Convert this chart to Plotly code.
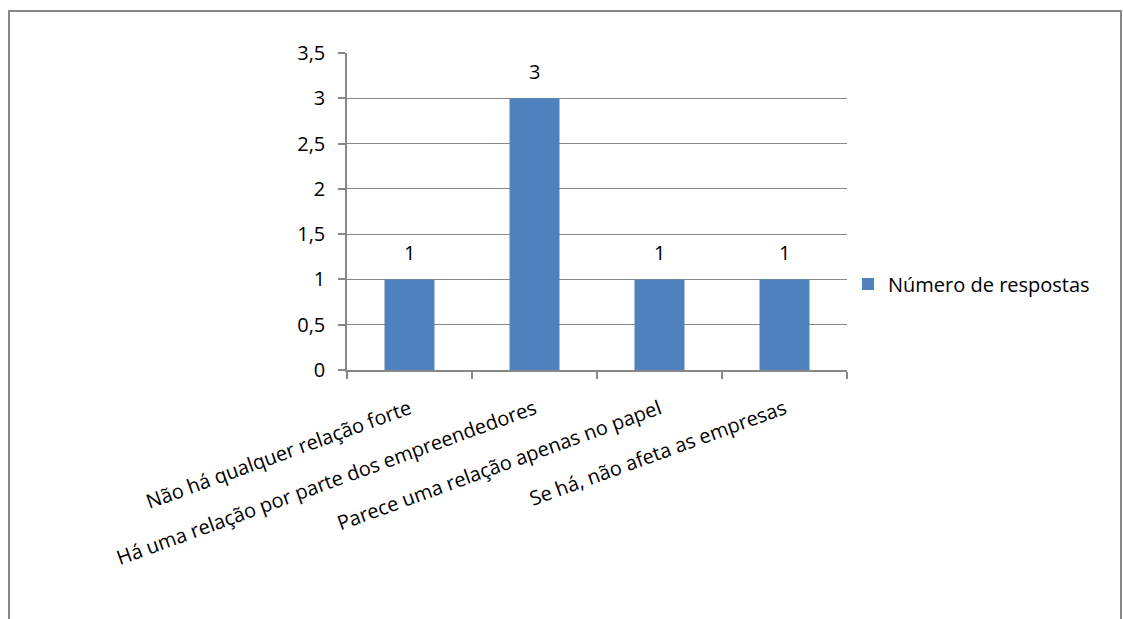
import plotly.graph_objects as go

categories = [
    "Não há qualquer relação forte",
    "Há uma relação por parte dos empreendedores",
    "Parece uma relação apenas no papel",
    "Se há, não afeta as empresas",
]
values = [1, 3, 1, 1]
series_name = "Número de respostas"
y_tickvals = [0, 0.5, 1, 1.5, 2, 2.5, 3, 3.5]
y_ticktext = ["0", "0,5", "1", "1,5", "2", "2,5", "3", "3,5"]

FONT = "'Open Sans', sans-serif"
FS = 20
GRAY = "#888888"

fig = go.Figure()
fig.add_trace(go.Bar(
    x=categories, y=values, name=series_name,
    marker=dict(color="#4F81BD", line=dict(width=0)),
    showlegend=True,
))

for c, v in zip(categories, values):
    fig.add_annotation(x=c, y=v, text=str(v), showarrow=False,
                       yshift=27, font=dict(family=FONT, size=FS, color="#000"))

L, R, T, B = 347, 847, 53, 370
W, H = 1123, 619
pw, ph = R - L, B - T

def px(x):
    return (x - L) / pw

def py(y):
    return 1 - (y - T) / ph

fig.add_shape(type="rect", xref="paper", yref="paper",
              x0=px(9), x1=px(1121), y0=py(640), y1=py(11),
              line=dict(color=GRAY, width=2), fillcolor="rgba(0,0,0,0)", layer="below")

fig.update_layout(
    width=W, height=H,
    margin=dict(l=L, r=W - R, t=T, b=H - B, pad=0),
    paper_bgcolor="white", plot_bgcolor="white",
    bargap=0.6,
    font=dict(family=FONT, size=FS, color="#000"),
    legend=dict(x=px(848), y=py(284), xanchor="left", yanchor="middle",
                font=dict(family=FONT, size=FS, color="#000"),
                bgcolor="rgba(0,0,0,0)", itemwidth=30),
    xaxis=dict(
        showline=True, linecolor=GRAY, linewidth=1.5,
        ticks="outside", tickson="boundaries", ticklen=7, tickcolor=GRAY, tickwidth=1.5,
        tickangle=-20, tickfont=dict(family=FONT, size=FS, color="#000"),
        ticklabelstandoff=18,
        showgrid=False,
    ),
    yaxis=dict(
        range=[0, 3.5], tickvals=y_tickvals, ticktext=y_ticktext,
        showline=True, linecolor=GRAY, linewidth=1.5,
        ticks="outside", ticklen=7, tickcolor=GRAY, tickwidth=1.5,
        showgrid=True, gridcolor=GRAY, gridwidth=1.2,
        zeroline=False, ticklabelstandoff=9,
        tickfont=dict(family=FONT, size=FS, color="#000"),
    ),
)

fig.write_html("out.html")
